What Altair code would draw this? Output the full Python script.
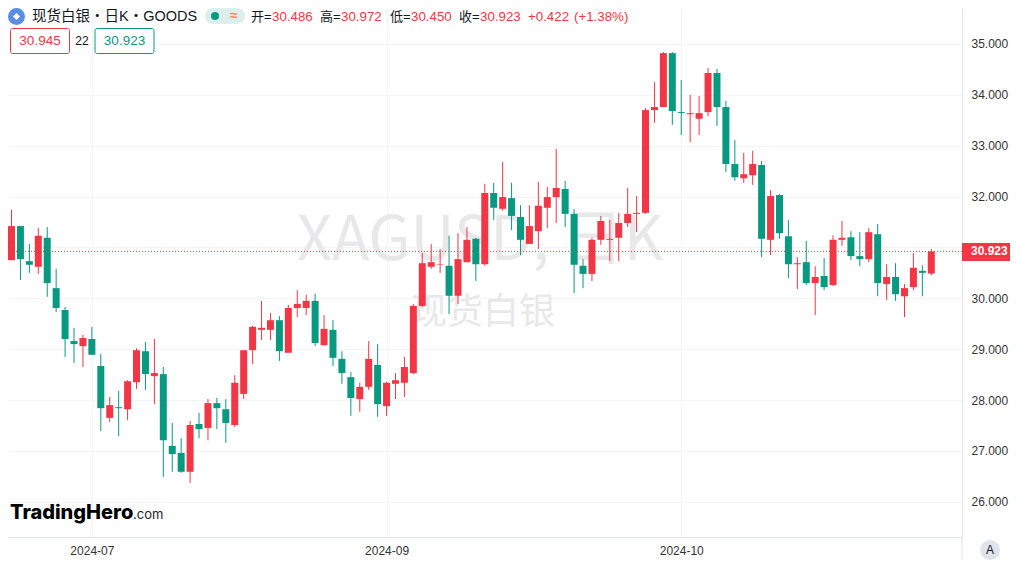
import altair as alt
import pandas as pd

opens = [30.75,31.42,30.73,30.62,31.19,30.20,29.77,29.16,29.06,29.20,
         28.67,27.65,27.86,27.82,28.35,28.96,28.47,28.51,27.10,26.96,
         26.59,27.53,27.45,27.94,27.82,27.51,28.12,28.98,29.38,29.38,
         29.57,28.93,29.81,29.81,29.95,29.08,29.38,28.81,28.45,28.02,
         28.26,28.69,27.88,28.32,28.34,28.53,29.85,30.62,30.66,30.64,
         30.05,30.71,31.17,30.67,32.07,31.76,31.97,31.60,31.07,31.32,
         31.78,31.99,32.15,31.66,30.64,30.48,31.15,31.15,31.19,31.48,
         31.66,31.68,33.70,33.76,34.82,33.66,33.62,33.53,33.66,34.43,
         33.76,32.64,32.36,32.42,32.62,31.15,32.03,31.22,30.67,30.71,
         30.30,30.44,30.26,31.15,31.20,30.83,30.77,31.26,30.28,30.42,
         30.04,30.22,30.54,30.486]
highs = [31.74,31.42,31.07,31.38,31.40,30.58,29.83,29.42,29.28,29.44,
         28.91,28.06,28.18,28.39,29.02,29.14,29.20,28.65,27.55,27.25,
         27.59,27.75,28.02,28.04,28.02,28.49,28.98,29.46,29.95,29.71,
         29.65,29.87,30.16,30.07,30.09,29.67,29.57,28.96,28.55,28.34,
         29.16,29.10,28.36,28.53,28.85,29.89,30.89,31.07,30.97,31.23,
         31.28,31.40,31.19,32.25,32.27,32.68,32.27,31.83,31.83,32.29,
         32.19,32.94,32.31,31.76,30.77,31.19,31.62,31.54,31.68,32.17,
         32.01,33.74,34.25,34.84,34.84,34.29,34.00,33.98,34.53,34.51,
         33.88,33.11,32.86,32.90,32.70,32.13,32.05,31.54,30.81,31.13,
         30.63,30.79,31.24,31.52,31.32,31.30,31.38,31.46,30.67,30.69,
         30.28,30.89,30.65,30.972]
lows = [30.75,30.36,30.50,30.48,30.03,29.73,28.85,28.73,28.65,28.89,
        27.39,27.57,27.29,27.61,28.22,28.20,27.92,26.49,26.59,26.57,
        26.37,27.25,27.21,27.43,27.16,27.47,28.02,28.71,29.18,29.18,
        28.77,28.93,29.63,29.67,29.06,29.06,28.67,28.32,27.69,27.77,
        28.20,27.67,27.69,28.02,28.06,28.51,29.83,30.58,30.50,29.69,
        29.89,30.71,30.34,30.64,31.54,31.72,31.34,30.85,31.07,30.97,
        31.38,31.48,31.40,30.10,30.20,30.34,31.05,30.73,30.73,31.40,
        31.30,31.66,33.45,33.76,33.41,33.21,33.07,33.21,33.58,33.39,
        32.48,32.31,32.27,32.23,30.81,30.85,31.17,30.40,30.18,30.26,
        29.67,30.16,30.24,31.03,30.75,30.63,30.71,30.04,29.97,29.95,
        29.63,30.16,30.04,30.450]
closes = [31.42,30.77,30.66,31.23,30.30,29.81,29.20,29.10,29.22,28.89,
          27.84,27.90,27.84,28.37,28.98,28.51,28.53,27.21,26.94,26.59,
          27.51,27.43,27.94,27.84,27.55,28.34,28.98,29.44,29.42,29.57,
          28.96,29.81,29.89,29.95,29.12,29.40,28.83,28.53,28.04,28.26,
          28.81,27.92,28.34,28.39,28.65,29.85,30.69,30.71,30.67,30.05,
          30.77,31.15,30.67,32.07,31.78,31.99,31.62,31.15,31.42,31.82,
          31.99,32.17,31.66,30.66,30.48,31.15,31.52,31.17,31.48,31.66,
          31.68,33.70,33.76,34.82,33.68,33.64,33.64,33.64,34.43,33.76,
          32.64,32.38,32.44,32.64,31.17,32.01,31.28,30.67,30.69,30.30,
          30.42,30.22,31.15,31.19,30.83,30.77,31.30,30.30,30.42,30.08,
          30.20,30.60,30.50,30.923]

price_ticks = [26, 27, 28, 29, 30, 31, 32, 33, 34, 35]
date_ticks = [9, 42, 75]
date_labels = ["2024-07", "2024-09", "2024-10"]
last_price = 30.923

UP = "#F23645"
DOWN = "#089981"
GRID = "#F3F4F6"
LINE = "#E0E3EB"
SANS = "Liberation Sans"
CJK = "Noto Sans CJK SC"
HEAD = "Liberation Sans, Noto Sans CJK SC"

df = pd.DataFrame({"i": list(range(len(opens))), "o": opens, "h": highs, "l": lows, "c": closes})
df["dir"] = ["up" if c >= o else "down" for o, c in zip(opens, closes)]

x_scale = alt.Scale(domain=[-0.392, 106.44], nice=False, zero=False, padding=0)
y_scale = alt.Scale(domain=[25.308, 35.707], nice=False, zero=False)
color = alt.Color("dir:N", scale=alt.Scale(domain=["up", "down"], range=[UP, DOWN]), legend=None)

label_expr = " : ".join(f"datum.value == {v} ? '{t}'" for v, t in zip(date_ticks, date_labels)) + " : ''"

one = alt.Data(values=[{"k": 1}])


def text(s, x, y, col="#131722", size=14, font=HEAD, weight="normal", align="left"):
    return alt.Chart(one).mark_text(
        text=s, color=col, fontSize=size, font=font, fontWeight=weight, align=align, baseline="middle"
    ).encode(x=alt.value(x), y=alt.value(y))


def box(x, x2, y, y2, fill, stroke=None, radius=2):
    kw = {"stroke": stroke, "strokeWidth": 1} if stroke else {}
    return alt.Chart(one).mark_rect(fill=fill, cornerRadius=radius, **kw).encode(
        x=alt.value(x), x2=alt.value(x2), y=alt.value(y), y2=alt.value(y2)
    )


def dot(x, y, size, col, shape="circle"):
    return alt.Chart(one).mark_point(filled=True, color=col, size=size, shape=shape, opacity=1).encode(
        x=alt.value(x), y=alt.value(y)
    )


axes = alt.Chart(df).mark_point(opacity=0).encode(
    x=alt.X("i:Q", scale=x_scale, title=None, axis=alt.Axis(
        values=date_ticks, labelExpr=label_expr, grid=True, gridColor=GRID, ticks=False,
        domainColor=LINE, labelColor="#333333", labelFont=SANS, labelFontSize=12,
        labelPadding=8, labelFlush=False, labelOverlap=False)),
    y=alt.Y("c:Q", scale=y_scale, title=None, axis=alt.Axis(
        orient="right", values=price_ticks, labelExpr="datum.value == 31 ? '' : format(datum.value, '.3f')",
        grid=True, gridColor=GRID, ticks=False,
        domainColor=LINE, labelColor="#333333", labelFont=SANS, labelFontSize=12, labelPadding=9)),
)

watermark = [
    text("XAGUSD, 日K", 289, 234, "#E8E8EA", 61, CJK),
    text("现货白银", 403, 305, "#E8E8EA", 36, CJK),
]

wicks = alt.Chart(df).mark_rule(strokeWidth=1).encode(
    x=alt.X("i:Q", scale=x_scale), y=alt.Y("h:Q", scale=y_scale), y2="l:Q", color=color
)
bodies = alt.Chart(df).mark_bar(size=7, cornerRadius=0).encode(
    x=alt.X("i:Q", scale=x_scale), y=alt.Y("o:Q", scale=y_scale), y2="c:Q", color=color
)
last_line = alt.Chart(alt.Data(values=[{"p": last_price}])).mark_rule(
    color=UP, strokeWidth=1, strokeDash=[1, 2]
).encode(y=alt.Y("p:Q", scale=y_scale))

right_line = alt.Chart(one).mark_rule(color=LINE, strokeWidth=1).encode(
    x=alt.value(954), y=alt.value(529), y2=alt.value(552)
)
price_tag = box(954, 1002, 235, 253, UP, radius=0)
price_text = alt.Chart(alt.Data(values=[{"p": last_price}])).mark_text(
    text="30.923", color="white", fontSize=12, font=SANS, fontWeight="bold", align="left", baseline="middle"
).encode(x=alt.value(963), y=alt.Y("p:Q", scale=y_scale))

header = [
    dot(8.5, 8.5, 289, "#5B8DE3"),
    dot(8.5, 8.5, 50, "#FFFFFF", "diamond"),
    text("现货白银・日K・GOODS", 24, 9, size=14.5),
    box(197, 237, 0, 16, "#DCEFEC", radius=8),
    dot(207, 8, 64, DOWN),
    text("≈", 222, 8, "#F5855E", 14, SANS, "bold"),
    text("开=", 243, 9, size=13),
    text("30.486", 264, 9, UP, 13.3),
    text("高=", 312, 9, size=13),
    text("30.972", 333, 9, UP, 13.3),
    text("低=", 382, 9, size=13),
    text("30.450", 403, 9, UP, 13.3),
    text("收=", 451, 9, size=13),
    text("30.923", 472, 9, UP, 13.3),
    text("+0.422", 520, 9, UP, 13.3),
    text("(+1.38%)", 566, 9, UP, 13.3),
    box(2.5, 61.5, 20.5, 45.5, "#FFFFFF", UP),
    text("30.945", 32, 33, UP, 13.5, align="center"),
    text("22", 74, 33, size=12, align="center"),
    box(87, 146, 20.5, 45.5, "#FFFFFF", DOWN),
    text("30.923", 116.5, 33, DOWN, 13.5, align="center"),
]

logo = [
    text("TradingHero", 2, 505, "#000000", 20, "Inter", 800),
    text(".com", 125, 507, "#222222", 13, "Inter"),
]

auto_btn = [
    dot(982, 542, 400, LINE),
    text("A", 982, 542, "#131722", 12, SANS, align="center"),
]

chart = alt.layer(
    axes, *watermark, wicks, bodies, last_line, right_line, price_tag, price_text,
    *header, *logo, *auto_btn
).properties(
    width=954, height=529,
    padding={"left": 0, "top": 0, "right": 48, "bottom": 23},
    autosize=alt.AutoSizeParams(type="none"),
    background="white",
).configure_view(stroke=None)

chart.save("out.html", embed_options={"renderer": "svg", "actions": False})
